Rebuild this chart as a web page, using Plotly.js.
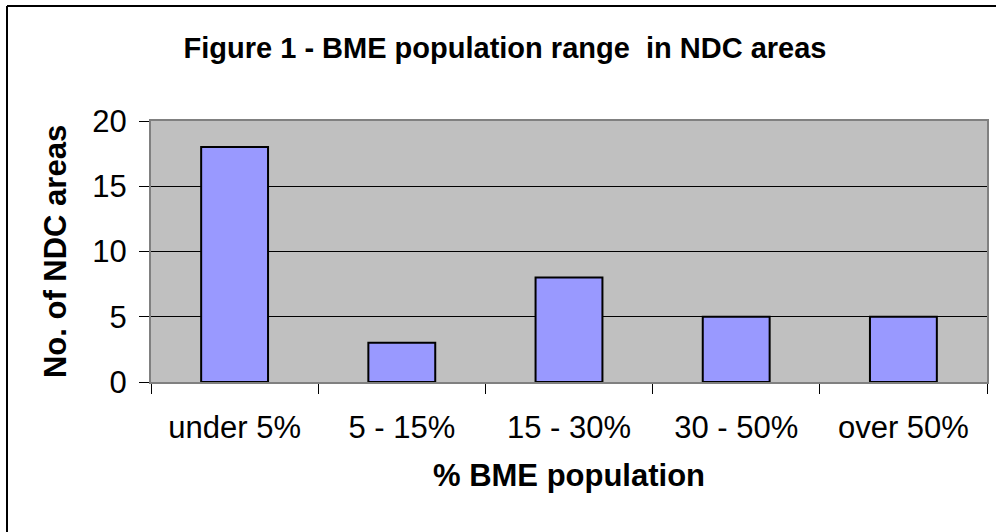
<!DOCTYPE html>
<html>
<head>
<meta charset="utf-8">
<script src="https://cdn.plot.ly/plotly-3.0.1.min.js"></script>
<style>html,body{margin:0;padding:0;background:#fff;overflow:hidden;}#chart{width:996px;height:532px;}</style>
</head>
<body>
<div id="chart"></div>
<script>
const categories = ["under 5%", "5 - 15%", "15 - 30%", "30 - 50%", "over 50%"];
const ndcAreas = [18, 3, 8, 5, 5];
const yTickVals = [0, 5, 10, 15, 20];

const FONT = "Liberation Sans, Arial, sans-serif";

const trace = {
  type: "bar",
  x: categories,
  y: ndcAreas,
  marker: { color: "#9999FF", line: { color: "#000000", width: 2 } },
  hoverinfo: "x+y"
};

const L = 151, R = 987, T = 121, B = 382;
const W = 996, H = 532;
const pw = R - L, ph = B - T;
const bx = (7 - L) / pw, by = (B - 6) / ph;

const layout = {
  width: W, height: H,
  margin: { l: L, r: W - R, t: T, b: H - B, pad: 0 },
  paper_bgcolor: "#ffffff",
  plot_bgcolor: "#C0C0C0",
  showlegend: false,
  bargap: 0.6,
  title: {
    text: "<b>Figure 1 - BME population range  in NDC areas</b>",
    font: { family: FONT, size: 29, color: "#000" },
    x: 505 / W, xanchor: "center",
    y: 1 - 48 / H, yanchor: "middle"
  },
  xaxis: {
    type: "category",
    showline: true, linecolor: "#808080", linewidth: 2, mirror: true,
    ticks: "outside", tickson: "boundaries", ticklen: 10, tickcolor: "#000", tickwidth: 1,
    tickfont: { family: FONT, size: 31, color: "#000" },
    ticklabelstandoff: 17,
    showgrid: false,
    title: { text: "<b>% BME population</b>", font: { family: FONT, size: 31, color: "#000" }, standoff: 20 },
    automargin: false
  },
  yaxis: {
    range: [0, 20],
    tickvals: yTickVals,
    showline: true, linecolor: "#808080", linewidth: 2, mirror: true,
    ticks: "outside", ticklen: 10, tickcolor: "#000", tickwidth: 1,
    tickfont: { family: FONT, size: 31, color: "#000" },
    ticklabelstandoff: 6,
    showgrid: true, gridcolor: "#000000", gridwidth: 1,
    zeroline: false,
    title: { text: "<b>No. of NDC areas</b>", font: { family: FONT, size: 31, color: "#000" }, standoff: 16 },
    automargin: false
  },
  shapes: [
    { type: "line", xref: "paper", yref: "paper", x0: bx, x1: bx, y0: -1, y1: by,
      line: { color: "#000", width: 2 }, layer: "below" },
    { type: "line", xref: "paper", yref: "paper", x0: bx, x1: 1.2, y0: by, y1: by,
      line: { color: "#000", width: 2 }, layer: "below" }
  ]
};

Plotly.newPlot("chart", [trace], layout, { displayModeBar: false, staticPlot: true });
</script>
</body>
</html>
